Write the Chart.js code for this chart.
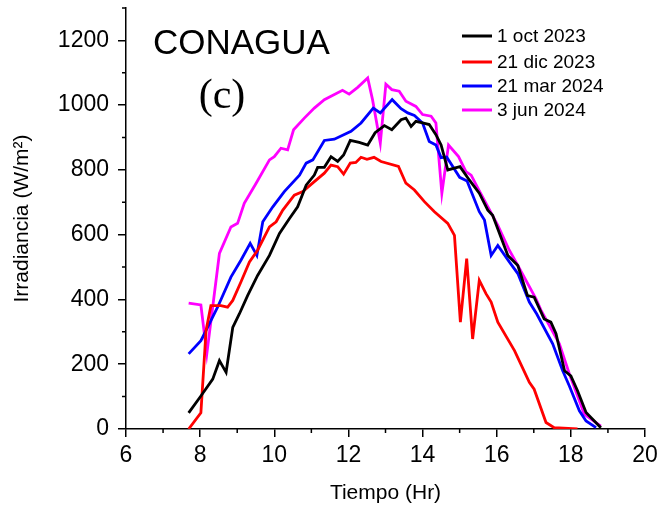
<!DOCTYPE html>
<html><head><meta charset="utf-8">
<script src="https://cdn.jsdelivr.net/npm/chart.js@4.4.1/dist/chart.umd.min.js"></script>
<style>html,body{margin:0;padding:0;background:#fff;}#wrap{width:660px;height:511px;position:relative;}</style>
</head><body><div id="wrap"><canvas id="c" width="660" height="511"></canvas></div>
<script>
const seriesLabels = ['1 oct 2023', '21 dic 2023', '21 mar 2024', '3 jun 2024'];
const seriesColors = ['#000000', '#ff0000', '#0000ff', '#ff00ff'];

const t1 = [7.69,8.02,8.34,8.52,8.70,8.88,9.06,9.28,9.55,9.87,10.14,10.41,10.63,10.86,11.08,11.17,11.35,11.53,11.71,11.87,12.05,12.29,12.52,12.72,12.97,13.17,13.42,13.55,13.69,13.82,14.00,14.18,14.36,14.50,14.68,15.01,15.26,15.53,15.76,15.89,16.30,16.57,16.83,17.01,17.28,17.46,17.60,17.83,18.00,18.18,18.41,18.81];
const v1 = [50,102,154,211,175,314,356,412,474,536,604,650,686,753,784,808,808,841,826,846,891,885,877,915,937,924,955,960,934,950,945,940,909,877,800,810,769,728,676,660,536,505,412,407,340,330,294,180,164,118,51,4];

const t2 = [7.69,8.02,8.16,8.29,8.56,8.74,8.88,9.10,9.33,9.55,9.87,10.05,10.23,10.54,10.77,11.08,11.35,11.53,11.71,11.87,12.05,12.20,12.34,12.50,12.69,12.88,13.35,13.55,13.78,14.05,14.32,14.68,14.86,15.02,15.19,15.35,15.53,15.71,15.85,16.03,16.48,16.88,17.01,17.33,17.55,18.18];
const v2 = [0,50,304,381,381,376,397,454,516,552,624,640,676,722,733,764,790,815,810,787,821,823,839,833,839,826,811,759,738,702,671,635,598,330,526,278,459,418,392,330,242,144,123,20,4,0];

const t3 = [7.69,8.02,8.20,8.47,8.83,9.10,9.35,9.53,9.69,9.96,10.27,10.68,10.86,11.04,11.35,11.62,12.07,12.34,12.67,12.86,13.18,13.42,13.60,13.78,14.00,14.18,14.36,14.50,14.65,15.00,15.20,15.53,15.67,15.85,16.03,16.34,16.57,16.88,17.08,17.51,17.78,17.96,18.23,18.41,18.68];
const v3 = [232,273,314,376,469,521,573,536,640,686,733,784,821,831,891,895,919,945,991,976,1017,989,976,968,945,888,877,838,840,777,766,671,645,536,567,516,480,392,355,263,180,133,56,25,4];

const t4 = [7.69,8.02,8.18,8.52,8.83,9.01,9.19,9.51,9.87,10.00,10.18,10.36,10.52,10.81,11.08,11.35,11.84,12.02,12.25,12.52,12.65,12.86,13.01,13.17,13.37,13.55,13.82,14.00,14.23,14.36,14.52,14.70,14.97,15.17,15.31,15.51,16.03,16.34,16.57,17.06,17.19,17.69,17.96,18.23,18.36,18.81];
const v4 = [389,383,232,542,624,635,697,759,831,841,867,862,924,960,991,1017,1046,1034,1055,1084,1017,883,1065,1048,1043,1012,996,971,966,945,728,877,841,795,784,740,629,552,505,402,368,263,170,87,46,9];

const xTicks = [6, 8, 10, 12, 14, 16, 18, 20];
const xMinor = [7, 9, 11, 13, 15, 17, 19];
const yTicks = [0, 200, 400, 600, 800, 1000, 1200];
const yMinor = [100, 300, 500, 700, 900, 1100, 1300];

const times = [t1, t2, t3, t4];
const values = [v1, v2, v3, v4];

const datasets = seriesLabels.map((lab, i) => ({
  label: lab,
  data: times[i].map((t, j) => ({x: t, y: values[i][j]})),
  borderColor: seriesColors[i],
  backgroundColor: seriesColors[i],
  borderWidth: 2.8,
  pointRadius: 0,
  tension: 0,
  fill: false
}));

const FONT = "'Liberation Sans', Arial, sans-serif";

const extras = {
  id: 'extras',
  afterDraw(chart) {
    const ctx = chart.ctx;
    const xs = chart.scales.x, ys = chart.scales.y;
    const ca = chart.chartArea;
    ctx.save();
    ctx.strokeStyle = '#000';
    ctx.lineWidth = 1.5;
    ctx.beginPath();
    xMinor.forEach(v => { const px = xs.getPixelForValue(v); ctx.moveTo(px, ca.bottom); ctx.lineTo(px, ca.bottom + 4); });
    yMinor.forEach(v => { const py = ys.getPixelForValue(v); ctx.moveTo(ca.left - 4, py); ctx.lineTo(ca.left, py); });
    ctx.stroke();
    ctx.fillStyle = '#000';
    ctx.textBaseline = 'middle';
    ctx.textAlign = 'left';
    ctx.font = "35px " + FONT;
    ctx.fillText('CONAGUA', 153, 44);
    ctx.textAlign = 'center';
    ctx.font = "42px 'Liberation Serif', 'Times New Roman', serif";
    ctx.fillText('(c)', 222, 97);
    ctx.textAlign = 'left';
    ctx.font = "19px " + FONT;
    const rowY = [36, 62, 86, 110];
    chart.data.datasets.forEach((ds, i) => {
      ctx.strokeStyle = ds.borderColor;
      ctx.lineWidth = 3;
      ctx.beginPath();
      ctx.moveTo(462, rowY[i]); ctx.lineTo(492, rowY[i]);
      ctx.stroke();
      ctx.fillStyle = '#000';
      ctx.fillText(ds.label, 497, rowY[i] + 1);
    });
    ctx.restore();
  }
};

new Chart(document.getElementById('c'), {
  type: 'line',
  data: { datasets },
  options: {
    responsive: false,
    animation: false,
    devicePixelRatio: 1,
    layout: { padding: { top: 8, right: 15, left: 0, bottom: 0 } },
    plugins: { legend: { display: false }, tooltip: { enabled: false } },
    scales: {
      x: {
        type: 'linear', min: 6, max: 20,
        afterBuildTicks: s => { s.ticks = xTicks.map(v => ({value: v})); },
        afterFit: s => { s.height = 82; s.paddingLeft = 0; s.paddingRight = 0; },
        ticks: { font: { family: FONT, size: 23 }, color: '#000', padding: 5, maxRotation: 0, callback: v => String(v) },
        grid: { drawOnChartArea: false, drawTicks: true, tickLength: 8, color: '#000', lineWidth: 1.5 },
        border: { display: true, color: '#000', width: 1.5 },
        title: { display: true, text: 'Tiempo (Hr)', font: { family: FONT, size: 21 }, color: '#000', padding: { top: 0, bottom: 5 } }
      },
      y: {
        type: 'linear', min: 0, max: 1300,
        afterBuildTicks: s => { s.ticks = yTicks.map(v => ({value: v})); },
        afterFit: s => { s.width = 126; s.paddingTop = 0; s.paddingBottom = 0; },
        ticks: { font: { family: FONT, size: 23 }, color: '#000', padding: 9, callback: v => String(v) },
        grid: { drawOnChartArea: false, drawTicks: true, tickLength: 8, color: '#000', lineWidth: 1.5 },
        border: { display: true, color: '#000', width: 1.5 },
        title: { display: true, text: 'Irradiancia (W/m²)', font: { family: FONT, size: 21 }, color: '#000', padding: { top: 10, bottom: 0 } }
      }
    }
  },
  plugins: [extras]
});
</script>
</body></html>
